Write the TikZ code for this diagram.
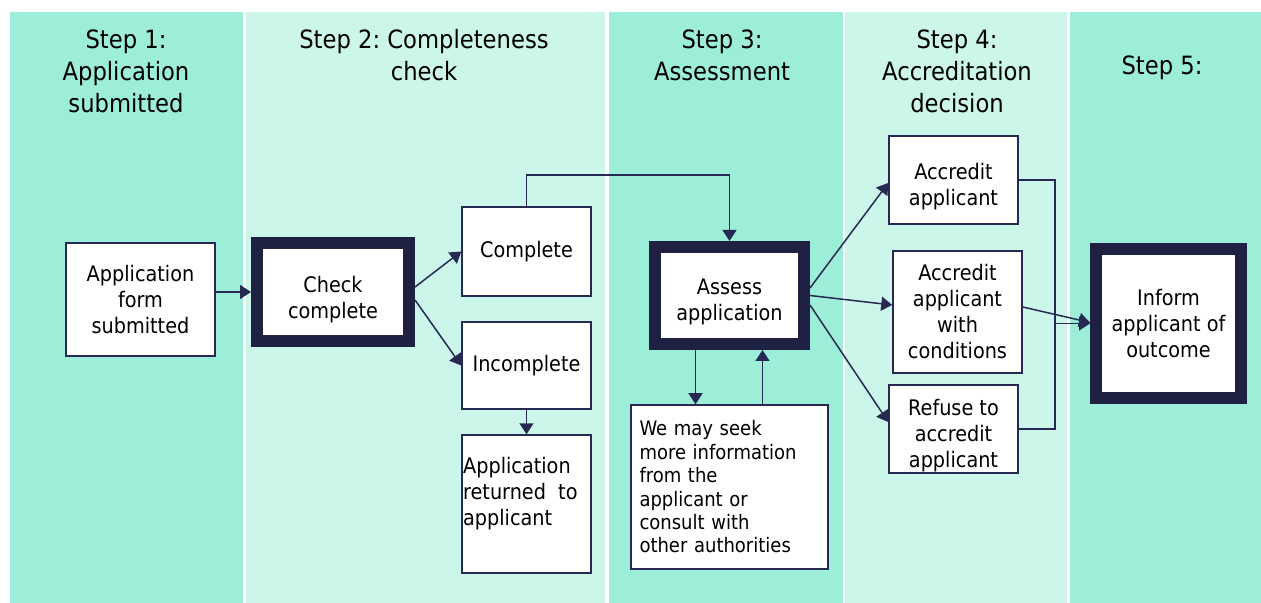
\documentclass[tikz,border=0pt]{standalone}
\usepackage{fontspec}
\setmainfont{DejaVu Sans Condensed}
\frenchspacing
\usetikzlibrary{positioning,arrows.meta,calc}
\definecolor{mintdark}{HTML}{9DEED8}
\definecolor{mintlight}{HTML}{CCF6EA}
\definecolor{navy}{HTML}{262A52}
\definecolor{navydark}{HTML}{1F2142}
\newcommand{\boxfont}{\fontsize{10.7}{13}\selectfont}
\newcommand{\headfont}{\fontsize{12.6}{16}\selectfont}
\newcommand{\notefont}{\fontsize{10}{11.7}\selectfont}
\newcommand{\topgap}[1]{\rule{0pt}{#1}}
\tikzstyle{block} = [rectangle, draw=navy, line width=0.75pt, fill=white,
    align=center, inner sep=2pt, font=\boxfont]
\tikzstyle{keyblock} = [block, draw=navydark, line width=6pt]
\tikzstyle{heading} = [anchor=north, align=center, inner sep=0pt, font=\headfont]
\tikzstyle{link} = [draw=navy, line width=0.75pt]

\begin{document}
\begin{tikzpicture}[x=0.5pt, y=-0.5pt, >={Triangle[length=5.5pt,width=7pt]}]
  \useasboundingbox (0,0) rectangle (1261,603);
  % Columns
  \fill[mintdark] (10,12) rectangle (243,603);
  \fill[mintlight] (246,12) rectangle (605,603);
  \fill[mintdark] (609,12) rectangle (843,603);
  \fill[mintlight] (845,12) rectangle (1067,603);
  \fill[mintdark] (1070,12) rectangle (1261,603);

  % Headings
  \node [heading] (head1) at (126,29) {Step 1:\\Application\\submitted};
  \node [heading] (head2) at (424,29) {Step 2: Completeness\\check};
  \node [heading] (head3) at (722,29) {Step 3:\\Assessment};
  \node [heading] (head4) at (957,29) {Step 4:\\Accreditation\\decision};
  \node [heading] (head5) at (1162,55) {Step 5:};

  % Nodes
  \node [block, minimum width=74.5pt, minimum height=56.5pt] (form) at (140.5,299.5) {Application\\form\\submitted};
  \node [keyblock, minimum width=76pt, minimum height=49pt] (check) at (333,292) {\topgap{16pt}Check\\complete};
  \node [block, minimum width=64.5pt, minimum height=44.5pt] (complete) at (526.5,251.5) {Complete};
  \node [block, minimum width=64.5pt, minimum height=43.5pt] (incomplete) at (526.5,365.5) {Incomplete};
  \node [block, minimum width=64.5pt, minimum height=69pt] (returned) at (526.5,504) {};
  \node [anchor=north west, align=left, inner sep=0pt, font=\boxfont] (returnedtext)
      at ([shift={(1.5,23)}]returned.north west) {Application\\returned\ \ to\\applicant};

  \node [keyblock, minimum width=74.5pt, minimum height=48.5pt] (assess) at (729.5,295.5) {\topgap{14.6pt}Assess\\application};
  \node [block, minimum width=98.5pt, minimum height=82pt, text width=90pt, align=left, font=\notefont] (seek) at (729.5,487)
      {We may seek\\more information\\from the\\applicant or\\consult with\\other authorities};

  \node [block, minimum width=64.5pt, minimum height=44pt] (accredit) at (953.5,180) {\topgap{15pt}Accredit\\applicant};
  \node [block, minimum width=64.5pt, minimum height=61pt] (conditions) at (957.5,312) {Accredit\\applicant\\with\\conditions};
  \node [block, minimum width=64.5pt, minimum height=44pt, inner ysep=0pt] (refuse) at (953.5,429) {\topgap{15pt}Refuse to\\accredit\\applicant};

  \node [keyblock, minimum width=72.5pt, minimum height=74.5pt] (inform) at (1168.5,323.5) {Inform\\applicant of\\outcome};
  \coordinate (join) at (1055,323.5);

  % Connections
  \draw [link,->] (form.east |- check) -- (check.west);
  \draw [link,->] ($(check.east)+(0,-5)$) -- (complete.west);
  \draw [link,->] ($(check.east)+(0,8)$) -- (incomplete.west);
  \draw [link,->] (incomplete.south) -- (returned.north);
  \draw [link,->] (complete.north) -- ++(0,-31) -| (assess.north);

  \draw [link,->] ($(assess.south)+(-34,0)$) -- ($(seek.north)+(-34,0)$);
  \draw [link,->] ($(seek.north)+(33,0)$) -- ($(assess.south)+(33,0)$);

  \draw [link,->] ($(assess.east)+(0,-7.5)$) -- ($(accredit.west)+(0,3)$);
  \draw [link,->] (assess.east) -- ($(conditions.west)+(0,-7)$);
  \draw [link,->] ($(assess.east)+(0,9.5)$) -- ($(refuse.west)+(0,-7)$);

  \draw [link] (accredit.east) -| (join) |- (refuse.east);
  \draw [link,->] (join) -- (inform.west |- join);
  \draw [link,->] ($(conditions.east)+(0,-5)$) -- ($(inform.west)+(0,-1)$);
\end{tikzpicture}
\end{document}
